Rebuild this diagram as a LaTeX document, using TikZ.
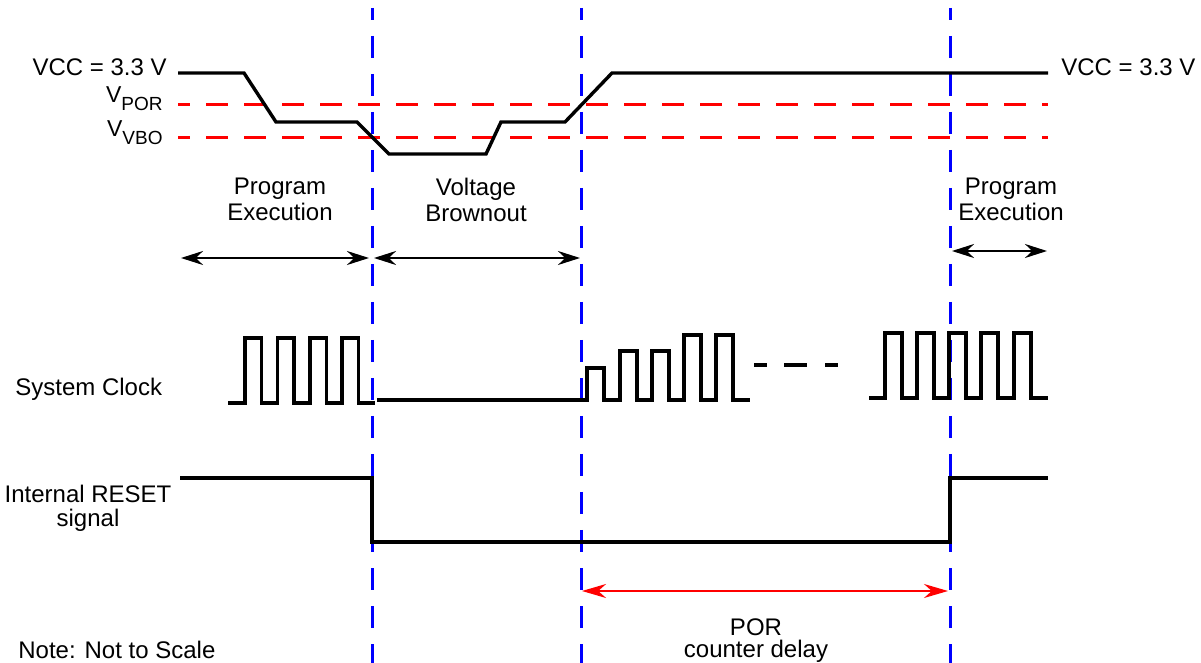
\documentclass[tikz,border=0pt]{standalone}
\usepackage{fontspec}
\setmainfont{Liberation Sans}
\usetikzlibrary{arrows.meta}

\newcommand{\vsub}[1]{{\fontsize{11.5}{12}\selectfont V}\raisebox{-4pt}{\fontsize{9.5}{10}\selectfont #1}}

\begin{document}
\begin{tikzpicture}[x=0.5pt, y=-0.5pt,
    wave/.style={line width=1.7pt},
    edge/.style={blue, line width=1.5pt, dash pattern=on 11pt off 8pt, dash phase=5pt},
    level/.style={red, line width=1.5pt, dash pattern=on 11pt off 8pt, dash phase=5pt},
    span/.style={line width=1pt, <->, >={Stealth[length=11pt,width=7pt]}},
    porspan/.style={red, line width=1pt, <->, >={Stealth[length=12pt,width=7pt]}},
    txt/.style={inner sep=0pt, font=\fontsize{12}{13}\selectfont, align=center}]
    \useasboundingbox (0,0) rectangle (1201,663);

    % threshold levels
    \draw[level] (178,105) -- (1048,105);
    \draw[level] (178,138) -- (1048,138);

    % phase boundaries
    \foreach \x in {372,581,950}
        \draw[edge] (\x,8) -- (\x,663);

    % VCC
    \draw[wave] (178,73) -- (244,73) -- (276,122) -- (357,122) -- (389,154) -- (486,154)
        -- (501,122) -- (565,122) -- (612,73) -- (1048,73);

    \node[txt, anchor=base east] (vccL) at (167,76) {VCC = 3.3 V};
    \node[txt, anchor=base west] (vccR) at (1061,76) {VCC = 3.3 V};
    \node[txt, anchor=base east] (vpor) at (163,103) {\vsub{POR}};
    \node[txt, anchor=base east] (vvbo) at (163,137) {\vsub{VBO}};

    % phases
    \node[txt, anchor=north] (progL) at (280,178) {Program\\Execution};
    \node[txt, anchor=north] (brown) at (476,178) {Voltage\\Brownout};
    \node[txt, anchor=north] (progR) at (1011,178) {Program\\Execution};

    \coordinate (pl1) at (181,258);
    \coordinate (pl2) at (369,258);
    \coordinate (vb1) at (374,258);
    \coordinate (vb2) at (580,258);
    \coordinate (pr1) at (952,251);
    \coordinate (pr2) at (1047,251);
    \draw[span] (pl1) -- (pl2);
    \draw[span] (vb1) -- (vb2);
    \draw[span] (pr1) -- (pr2);

    % system clock
    \node[txt, anchor=base west] (clk) at (15,396) {System Clock};
    \draw[wave] (228,403) foreach \t in {245,277.5,310,342}
        { -- (\t,403) -- (\t,338) -- ({\t+16.5},338) -- ({\t+16.5},403) } -- (375,403);
    \draw[wave] (377,400) -- (587,400) -- (587,368) -- (604,368) -- (604,400)
        foreach \t/\h in {620/351,652/351,684/335,716/335}
        { -- (\t,400) -- (\t,\h) -- ({\t+17},\h) -- ({\t+17},400) } -- (750,400);
    \foreach \a/\b in {754/767,784/807,825/838}
        \draw[wave] (\a,365) -- (\b,365);
    \draw[wave] (869,398) foreach \t in {885,917,949,981,1014}
        { -- (\t,398) -- (\t,333) -- ({\t+17},333) -- ({\t+17},398) } -- (1048,398);

    % reset
    \node[txt, anchor=north] (rst) at (88,485) {Internal RESET\\[-1pt]signal};
    \draw[wave] (180,478) -- (372,478) -- (372,542) -- (950,542) -- (950,478) -- (1048,478);

    % POR delay
    \coordinate (pc1) at (582,591);
    \coordinate (pc2) at (948,591);
    \draw[porspan] (pc1) -- (pc2);
    \node[txt, anchor=north] (por) at (756,618) {POR\\[-2pt]counter delay};

    \node[txt, anchor=base west] (note) at (18,658) {Note: Not to Scale};
\end{tikzpicture}
\end{document}
